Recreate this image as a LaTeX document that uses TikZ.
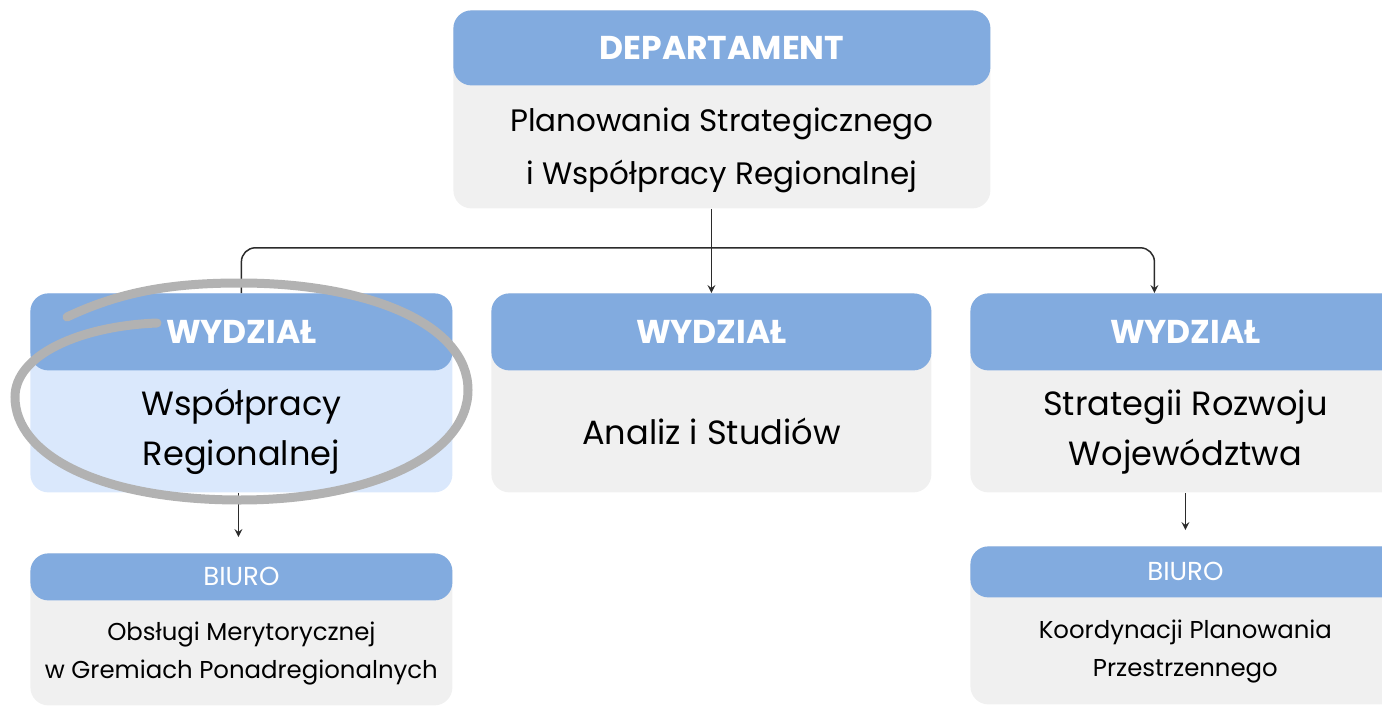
\documentclass[tikz,border=0pt]{standalone}
\usepackage{fontspec}
\setmainfont{Poppins}
\usetikzlibrary{calc}
\definecolor{HeadBlue}{HTML}{82ABDF}
\definecolor{BodyGrey}{HTML}{F0F0F0}
\definecolor{BodyBlue}{HTML}{DAE8FC}
\definecolor{MarkGrey}{HTML}{B2B2B2}
\definecolor{LineDark}{HTML}{2B2B2B}

\begin{document}
\begin{tikzpicture}[x=0.5pt, y=-0.5pt,
  box/.style={rectangle, fill=BodyGrey, rounded corners=9pt, anchor=north west, inner sep=0pt},
  hbox/.style={rectangle, fill=HeadBlue, rounded corners=9pt, anchor=north, inner sep=0pt, text=white},
  htitle/.style={hbox, font=\bfseries\fontsize{16.5}{20}\selectfont},
  hsmall/.style={hbox, font=\fontsize{13}{15}\selectfont},
  toptxt/.style={align=center, inner sep=0pt, font=\fontsize{15.5}{26.5}\selectfont},
  bigtxt/.style={align=center, inner sep=0pt, font=\fontsize{16.8}{25}\selectfont},
  smalltxt/.style={align=center, inner sep=0pt, font=\fontsize{12.2}{19}\selectfont},
  arrow/.style={->, >=stealth, line width=0.75pt, color=LineDark},
  ringmark/.style={draw=MarkGrey, line width=4.5pt, line cap=round}
]
  \useasboundingbox (0,0) rectangle (1382,706);
  \clip (0,0) rectangle (1382,706);

  % Departament
  \node[box, minimum width=268.5pt, minimum height=99pt] (dep) at (453,10) {};
  \node[htitle, minimum width=268.5pt, minimum height=37.5pt] (depH) at (dep.north) {DEPARTAMENT};
  \node[toptxt] (depT) at ($(depH.south)!0.5!(dep.south)+(0,3)$) {Planowania Strategicznego\\i Współpracy Regionalnej};

  % Wydzialy
  \node[box, fill=BodyBlue, minimum width=211pt, minimum height=99.5pt] (wwr) at (30,293) {};
  \node[htitle, minimum width=211pt, minimum height=38.5pt] (wwrH) at (wwr.north) {WYDZIAŁ};
  \node[bigtxt] (wwrT) at ($(wwrH.south)!0.5!(wwr.south)$) {Współpracy\\Regionalnej};

  \node[box, minimum width=220pt, minimum height=99.5pt] (was) at (491,293) {};
  \node[htitle, minimum width=220pt, minimum height=38.5pt] (wasH) at (was.north) {WYDZIAŁ};
  \node[bigtxt] (wasT) at ($(wasH.south)!0.5!(was.south)$) {Analiz i Studiów};

  \node[box, minimum width=215pt, minimum height=99.5pt] (wsr) at (970,293) {};
  \node[htitle, minimum width=215pt, minimum height=38.5pt] (wsrH) at (wsr.north) {WYDZIAŁ};
  \node[bigtxt] (wsrT) at ($(wsrH.south)!0.5!(wsr.south)$) {Strategii Rozwoju\\Województwa};

  % Biura
  \node[box, minimum width=211pt, minimum height=76pt] (bom) at (30,553) {};
  \node[hsmall, minimum width=211pt, minimum height=23.5pt] (bomH) at (bom.north) {BIURO};
  \node[smalltxt] (bomT) at ($(bomH.south)!0.5!(bom.south)$) {Obsługi Merytorycznej\\w Gremiach Ponadregionalnych};

  \node[box, minimum width=215pt, minimum height=79pt] (bkp) at (970,546) {};
  \node[hsmall, minimum width=215pt, minimum height=25.5pt] (bkpH) at (bkp.north) {BIURO};
  \node[smalltxt] (bkpT) at ($(bkpH.south)!0.5!(bkp.south)$) {Koordynacji Planowania\\Przestrzennego};

  % Connections
  \coordinate (bus) at ($(wasH.north |- dep.south)+(0,39)$);
  \coordinate (wsrIn) at ($(wsrH.north)+(-31,0)$);
  \draw[arrow] (wasH.north |- dep.south) -- (wasH.north);
  \draw[arrow, rounded corners=7pt] (wwrH.north) |- (bus) -| (wsrIn);
  \draw[arrow, shorten >=8pt] ($(wwr.south)+(-3,0)$) -- ($(bomH.north)+(-3,0)$);
  \draw[arrow, shorten >=8pt] (wsr.south) -- (bkpH.north);

  % Hand-drawn ring round the highlighted unit
  \draw[ringmark] (67,317) .. controls (120,292) and (170,283) .. (240,283)
    .. controls (370,283) and (468,325) .. (468,390)
    .. controls (468,455) and (370,500) .. (240,500)
    .. controls (100,500) and (15,455) .. (15,397)
    .. controls (15,355) and (80,326) .. (157,323);
\end{tikzpicture}
\end{document}
